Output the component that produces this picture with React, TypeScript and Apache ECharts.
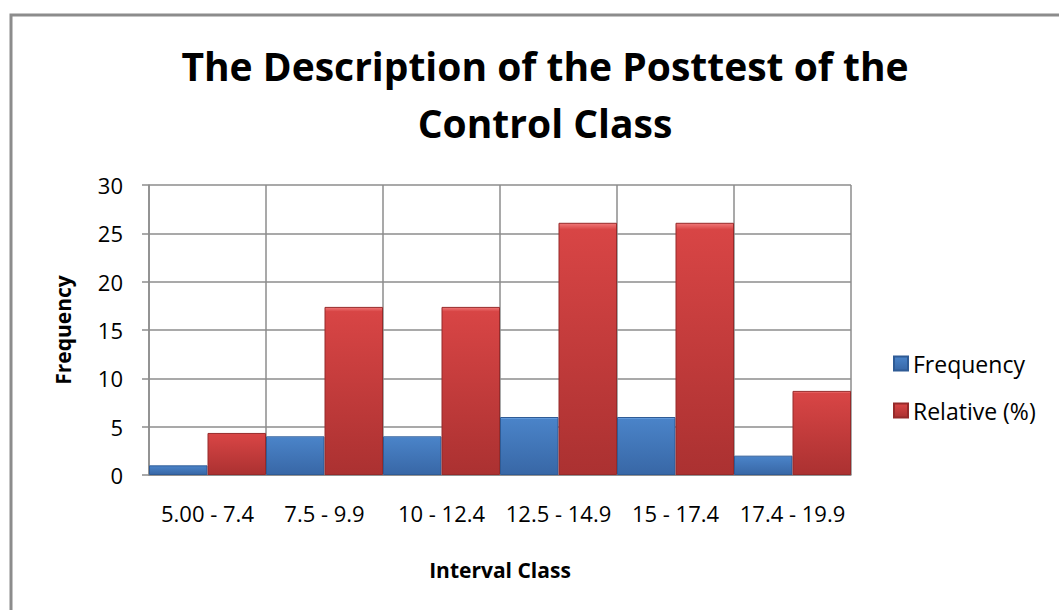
import React, { useEffect, useRef } from "react";
import * as echarts from "echarts";

const categories = ["5.00 - 7.4", "7.5 - 9.9", "10 - 12.4", "12.5 - 14.9", "15 - 17.4", "17.4 - 19.9"];
const frequency = [1, 4, 4, 6, 6, 2];
const relative = [4.35, 17.39, 17.39, 26.09, 26.09, 8.7];
const yTicks = { min: 0, max: 30, interval: 5 };

const FONT = "Open Sans";

export default function App() {
  const ref = useRef<HTMLDivElement>(null);
  useEffect(() => {
    if (!ref.current) return;
    const chart = echarts.init(ref.current, null, { renderer: "svg" });
    const blue = new echarts.graphic.LinearGradient(0, 0, 0, 1, [
      { offset: 0, color: "#7ab0ee" },
      { offset: 0.035, color: "#4a83c8" },
      { offset: 1, color: "#3867a6" },
    ]);
    const red = new echarts.graphic.LinearGradient(0, 0, 0, 1, [
      { offset: 0, color: "#f07878" },
      { offset: 0.025, color: "#d84545" },
      { offset: 1, color: "#ab3131" },
    ]);
    chart.setOption({
      animation: false,
      backgroundColor: "#ffffff",
      title: {
        text: "The Description of the Posttest of the\nControl Class",
        left: 540,
        textAlign: "center",
        top: 32,
        textStyle: { fontFamily: FONT, fontWeight: "bold", fontSize: 39, lineHeight: 57, color: "#000" },
      },
      graphic: [
        {
          type: "rect",
          shape: { x: 11, y: 15, width: 1200, height: 800 },
          style: { fill: "none", stroke: "#8c8c8c", lineWidth: 3 },
          silent: true,
        },
      ],
      legend: {
        orient: "vertical",
        left: 893,
        top: 352,
        padding: 0,
        itemWidth: 14,
        itemHeight: 14,
        itemGap: 24,
        icon: "rect",
        textStyle: { fontFamily: FONT, fontSize: 23, lineHeight: 23, color: "#000" },
        data: ["Frequency", "Relative (%)"],
      },
      grid: { left: 149, right: 208, top: 185, bottom: 135 },
      xAxis: {
        type: "category",
        data: categories,
        name: "Interval Class",
        nameLocation: "middle",
        nameGap: 84,
        nameTextStyle: { fontFamily: FONT, fontWeight: "bold", fontSize: 21, color: "#000" },
        axisLine: { lineStyle: { color: "#8c8c8c", width: 1.5 } },
        axisTick: { show: false },
        axisLabel: { fontFamily: FONT, fontSize: 22, color: "#000", margin: 27, interval: 0 },
        splitLine: { show: true, lineStyle: { color: "#8c8c8c", width: 1.5 } },
      },
      yAxis: {
        type: "value",
        min: yTicks.min,
        max: yTicks.max,
        interval: yTicks.interval,
        name: "Frequency",
        nameLocation: "middle",
        nameGap: 76,
        nameTextStyle: { fontFamily: FONT, fontWeight: "bold", fontSize: 21, color: "#000" },
        axisLine: { show: true, lineStyle: { color: "#8c8c8c", width: 1.5 } },
        axisTick: { show: true, length: 7, lineStyle: { color: "#8c8c8c", width: 1.5 } },
        axisLabel: { fontFamily: FONT, fontSize: 22, color: "#000", margin: 26 },
        splitLine: { show: true, lineStyle: { color: "#8c8c8c", width: 1.5 } },
      },
      series: [
        {
          name: "Frequency",
          type: "bar",
          data: frequency,
          barGap: "0%",
          barCategoryGap: "0%",
          itemStyle: { color: blue, borderColor: "#2f5b95", borderWidth: 1 },
        },
        {
          name: "Relative (%)",
          type: "bar",
          data: relative,
          barGap: "0%",
          barCategoryGap: "0%",
          itemStyle: { color: red, borderColor: "#962a2a", borderWidth: 1 },
        },
      ],
    });
    return () => chart.dispose();
  }, []);
  return (
    <div
      ref={ref}
      style={{ position: "absolute", left: 0, top: 0, width: 1059, height: 610 }}
    />
  );
}
